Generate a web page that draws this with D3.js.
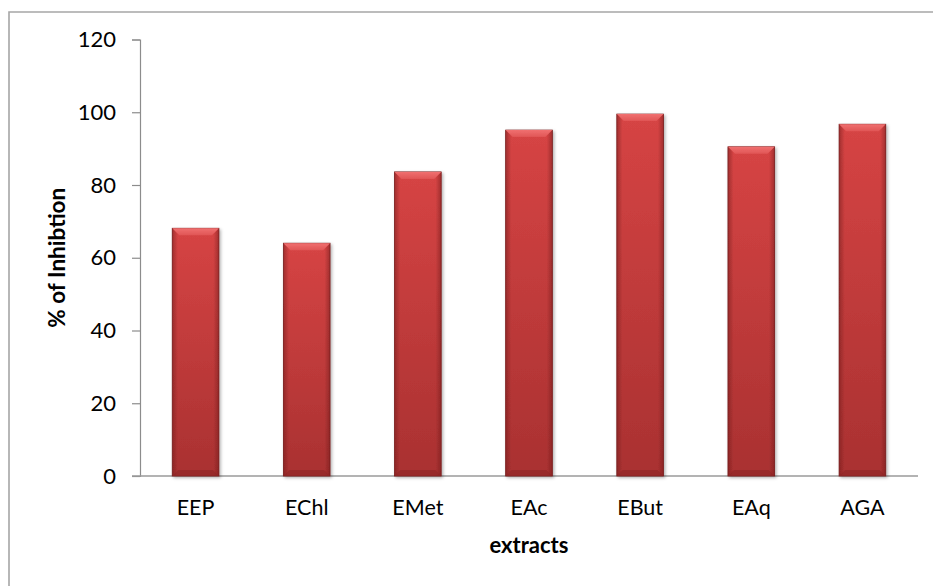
<!DOCTYPE html>
<html>
<head>
<meta charset="utf-8">
<script src="https://cdn.jsdelivr.net/npm/d3@7"></script>
<style>
  html, body { margin: 0; padding: 0; background: #fff; }
  svg { display: block; font-family: Lato, "Open Sans", sans-serif; }
</style>
</head>
<body>
<svg id="chart" width="933" height="586"></svg>
<script>
// Inhibition per extract
const categories = ["EEP", "EChl", "EMet", "EAc", "EBut", "EAq", "AGA"];
const inhibition = [68.1, 64.0, 83.6, 95.1, 99.5, 90.5, 96.7];
const yTicks = [0, 20, 40, 60, 80, 100, 120];

const svg = d3.select("#chart");
const margin = { left: 140, right: 15, top: 39.5, bottom: 110 };
const W = 933, H = 586;

// Outer frame (open on the right and bottom)
svg.append("path")
  .attr("d", "M9,586 L9,12 L933,12")
  .attr("fill", "none").attr("stroke", "#a6a6a6").attr("stroke-width", 1.6);

const x = d3.scaleBand().domain(categories)
  .range([margin.left, W - margin.right]).paddingInner(0.58).paddingOuter(0.29);
const y = d3.scaleLinear().domain([0, 120]).range([H - margin.bottom, margin.top]);

const defs = svg.append("defs");
const body = defs.append("linearGradient").attr("id", "barBody")
  .attr("x1", 0).attr("y1", 0).attr("x2", 0).attr("y2", 1);
body.append("stop").attr("offset", 0).attr("stop-color", "#d64444");
body.append("stop").attr("offset", 1).attr("stop-color", "#a93131");
const side = defs.append("linearGradient").attr("id", "barSide")
  .attr("x1", 0).attr("y1", 0).attr("x2", 1).attr("y2", 0);
side.append("stop").attr("offset", 0).attr("stop-color", "#6e1a1a").attr("stop-opacity", 0.5);
side.append("stop").attr("offset", 0.12).attr("stop-color", "#6e1a1a").attr("stop-opacity", 0);
side.append("stop").attr("offset", 0.88).attr("stop-color", "#6e1a1a").attr("stop-opacity", 0);
side.append("stop").attr("offset", 1).attr("stop-color", "#6e1a1a").attr("stop-opacity", 0.5);
const bevel = defs.append("linearGradient").attr("id", "bevelTop")
  .attr("x1", 0).attr("y1", 0).attr("x2", 0).attr("y2", 1);
bevel.append("stop").attr("offset", 0).attr("stop-color", "#f07070");
bevel.append("stop").attr("offset", 1).attr("stop-color", "#e05555");
const shadow = defs.append("filter").attr("id", "shadow")
  .attr("x", "-20%").attr("y", "-10%").attr("width", "150%").attr("height", "130%");
shadow.append("feDropShadow").attr("dx", 1.5).attr("dy", 1.5).attr("stdDeviation", 1.5)
  .attr("flood-color", "#000").attr("flood-opacity", 0.3);

// Axes
const yAxis = svg.append("g").attr("transform", `translate(${margin.left},0)`)
  .call(d3.axisLeft(y).tickValues(yTicks).tickSize(8).tickPadding(16));
yAxis.select(".domain").attr("stroke", "#8c8c8c").attr("stroke-width", 1.2);
yAxis.selectAll(".tick line").attr("stroke", "#8c8c8c").attr("stroke-width", 1.2);
yAxis.selectAll(".tick text").attr("font-size", 22).attr("fill", "#000")
  .attr("font-family", "Lato, sans-serif");

const xAxis = svg.append("g").attr("transform", `translate(0,${y(0)})`)
  .call(d3.axisBottom(x).tickSize(0).tickPadding(24));
xAxis.select(".domain").attr("stroke", "#9a9a9a").attr("stroke-width", 1.6)
  .attr("d", `M${margin.left - 8},0H${W - margin.right}`);
xAxis.selectAll(".tick text").attr("font-size", 21.5).attr("fill", "#000")
  .attr("font-family", "Lato, sans-serif");

// Bars
const bw = x.bandwidth();
const g = svg.append("g").selectAll("g").data(categories).join("g")
  .attr("filter", "url(#shadow)");
g.append("rect")
  .attr("x", d => x(d)).attr("width", bw)
  .attr("y", (d, i) => y(inhibition[i]))
  .attr("height", (d, i) => y(0) - y(inhibition[i]))
  .attr("fill", "url(#barBody)")
  .attr("stroke", "#7a2020").attr("stroke-width", 0.8);
g.append("rect")
  .attr("x", d => x(d)).attr("width", bw)
  .attr("y", (d, i) => y(inhibition[i]))
  .attr("height", (d, i) => y(0) - y(inhibition[i]))
  .attr("fill", "url(#barSide)");
// top bevel
g.append("path")
  .attr("d", (d, i) => {
    const x0 = x(d), x1 = x(d) + bw, t = y(inhibition[i]), b = 7;
    return `M${x0},${t}H${x1}L${x1 - b},${t + b}H${x0 + b}Z`;
  })
  .attr("fill", "url(#bevelTop)");
// bottom bevel
g.append("path")
  .attr("d", (d, i) => {
    const x0 = x(d), x1 = x(d) + bw, t = y(0), b = 6;
    return `M${x0},${t}H${x1}L${x1 - b},${t - b}H${x0 + b}Z`;
  })
  .attr("fill", "#8e2626").attr("opacity", 0.6);

// Axis titles
svg.append("text")
  .attr("transform", `translate(65,${(y(0) + y(120)) / 2}) rotate(-90)`)
  .attr("text-anchor", "middle").attr("font-size", 22.5).attr("font-weight", "bold")
  .text("% of Inhibtion");
svg.append("text")
  .attr("x", (margin.left + W - margin.right) / 2).attr("y", 553)
  .attr("text-anchor", "middle").attr("font-size", 22).attr("font-weight", "bold")
  .text("extracts");
</script>
</body>
</html>
